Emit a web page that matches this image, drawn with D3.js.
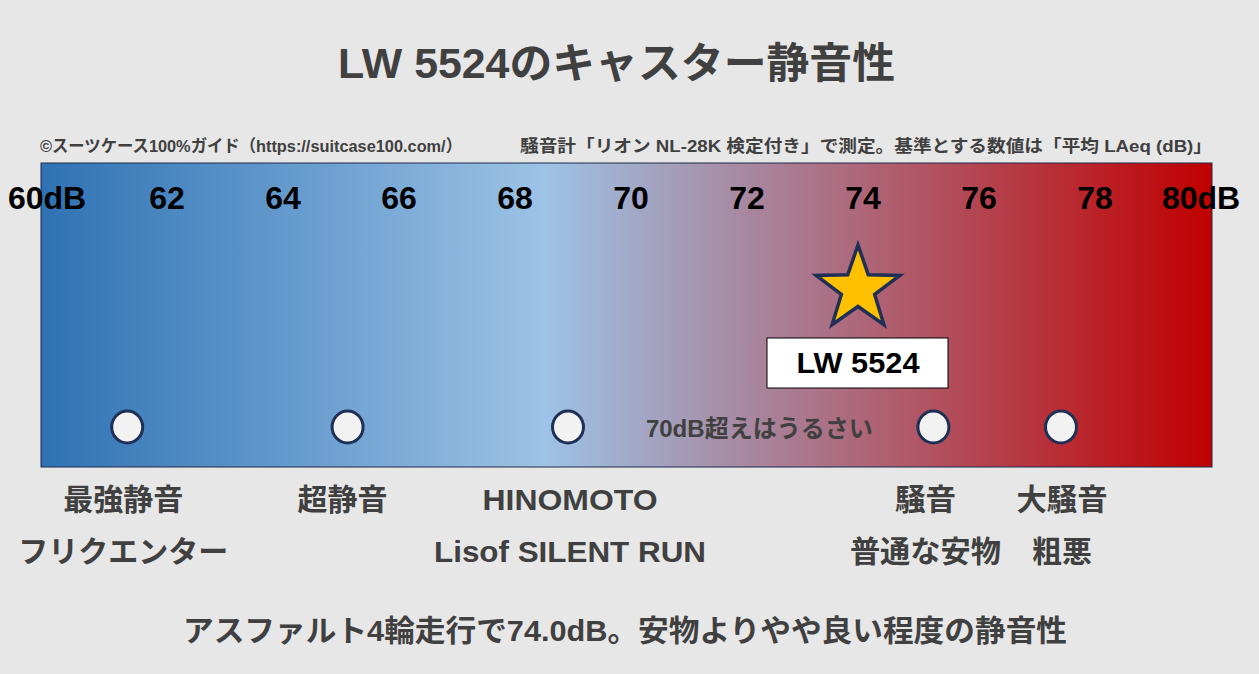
<!DOCTYPE html>
<html><head><meta charset="utf-8">
<script src="https://cdn.jsdelivr.net/npm/d3@7"></script>
<style>
html,body{margin:0;padding:0;background:#e7e7e7;}
svg{display:block;font-family:"Liberation Sans","Noto Sans CJK JP",sans-serif;}
</style></head>
<body><svg id="c" width="1259" height="674"></svg>
<script>
const title = "LW 5524のキャスター静音性";
const creditText = "©スーツケース100%ガイド（https://suitcase100.com/）";
const methodText = "騒音計「リオン NL-28K 検定付き」で測定。基準とする数値は「平均 LAeq (dB)」";
const tickValues = [60, 62, 64, 66, 68, 70, 72, 74, 76, 78, 80];
const tickLabels = ["60dB", "62", "64", "66", "68", "70", "72", "74", "76", "78", "80dB"];
const refValues = [61.4, 65.2, 69.0, 75.3, 77.5];
const refLine1 = ["最強静音", "超静音", "HINOMOTO", "騒音", "大騒音"];
const refLine2 = ["フリクエンター", "", "Lisof SILENT RUN", "普通な安物", "粗悪"];
const productName = "LW 5524";
const productValue = 74.0;
const noteText = "70dB超えはうるさい";
const noteValue = 72.3;
const summary = "アスファルト4輪走行で74.0dB。安物よりやや良い程度の静音性";

const svg = d3.select("#c");
const x = d3.scaleLinear().domain([60, 80]).range([46, 1206]);
const rectX0 = 41, rectX1 = 1212, rectY0 = 163, rectY1 = 467;
const txt = "#404040";

// squeeze/stretch a text to the width it has in the reference
function fit(sel, w) {
  sel.each(function () {
    const n = this.getComputedTextLength();
    if (n > 0 && w > 0) d3.select(this).attr("textLength", w).attr("lengthAdjust", "spacingAndGlyphs");
  });
  return sel;
}

const defs = svg.append("defs");
const g = defs.append("linearGradient").attr("id", "grad")
  .attr("x1", "0%").attr("x2", "100%").attr("y1", "0%").attr("y2", "0%");
g.append("stop").attr("offset", "0%").attr("stop-color", "#2e72b4");
g.append("stop").attr("offset", "43%").attr("stop-color", "#9dc3e6");
g.append("stop").attr("offset", "100%").attr("stop-color", "#c00000");

fit(svg.append("text").attr("x", 616.5).attr("y", 78).attr("text-anchor", "middle")
  .attr("font-size", 42).attr("font-weight", "bold").attr("fill", txt).text(title), 557);

fit(svg.append("text").attr("x", 40).attr("y", 152).attr("font-size", 17)
  .attr("font-weight", "bold").attr("fill", txt).text(creditText), 422);
fit(svg.append("text").attr("x", 520).attr("y", 152).attr("font-size", 17)
  .attr("font-weight", "bold").attr("fill", txt).text(methodText), 692);

svg.append("rect").attr("x", rectX0).attr("y", rectY0)
  .attr("width", rectX1 - rectX0).attr("height", rectY1 - rectY0)
  .attr("fill", "url(#grad)").attr("stroke", "#1f2a4a").attr("stroke-width", 1);

svg.selectAll("text.tick").data(tickValues).enter().append("text")
  .attr("class", "tick")
  .attr("x", d => x(d))
  .attr("dx", (d, i) => i === 0 ? 1 : (i === tickValues.length - 1 ? -5 : 5))
  .attr("y", 209).attr("text-anchor", "middle")
  .attr("font-size", 32).attr("font-weight", "bold").attr("fill", "#000")
  .text((d, i) => tickLabels[i]);

// note
fit(svg.append("text").attr("x", x(noteValue)).attr("y", 437).attr("text-anchor", "middle")
  .attr("font-size", 24).attr("font-weight", "bold").attr("fill", txt).text(noteText), 227);

// reference circles
svg.selectAll("ellipse.ref").data(refValues).enter().append("ellipse")
  .attr("class", "ref")
  .attr("cx", d => x(d)).attr("cy", 427).attr("rx", 15.5).attr("ry", 16)
  .attr("fill", "#f2f2f2").attr("stroke", "#1f2f55").attr("stroke-width", 3);

const w1 = [120, 90, 175, 61, 91], w2 = [210, 0, 272, 151, 60];
const ldx = [-4, -5, 2, -8, 1];
svg.selectAll("text.l1").data(refValues).enter().append("text")
  .attr("class", "l1").attr("x", d => x(d)).attr("dx", (d, i) => ldx[i])
  .attr("y", 510).attr("text-anchor", "middle")
  .attr("font-size", 30).attr("font-weight", "bold").attr("fill", txt)
  .text((d, i) => refLine1[i])
  .each(function (d, i) { fit(d3.select(this), w1[i]); });
svg.selectAll("text.l2").data(refValues).enter().append("text")
  .attr("class", "l2").attr("x", d => x(d)).attr("dx", (d, i) => ldx[i])
  .attr("y", 562).attr("text-anchor", "middle")
  .attr("font-size", 30).attr("font-weight", "bold").attr("fill", txt)
  .text((d, i) => refLine2[i])
  .each(function (d, i) { fit(d3.select(this), w2[i]); });

// star
const px = x(productValue), py = 289, R = 44, r = 17.5;
const pts = [];
for (let i = 0; i < 10; i++) {
  const a = -Math.PI / 2 + i * Math.PI / 5;
  const rr = i % 2 === 0 ? R : r;
  pts.push([px + rr * Math.cos(a), py + rr * Math.sin(a)]);
}
svg.append("path").attr("d", d3.line()(pts) + "Z")
  .attr("fill", "#ffc000").attr("stroke", "#1f2f55").attr("stroke-width", 3.5)
  .attr("stroke-linejoin", "miter");

svg.append("rect").attr("x", px - 91).attr("y", 338).attr("width", 181).attr("height", 50)
  .attr("fill", "#fff").attr("stroke", "#000").attr("stroke-width", 1);
fit(svg.append("text").attr("x", px).attr("y", 373).attr("text-anchor", "middle")
  .attr("font-size", 30).attr("font-weight", "bold").attr("fill", "#000").text(productName), 123);

fit(svg.append("text").attr("x", 625).attr("y", 641).attr("text-anchor", "middle")
  .attr("font-size", 30).attr("font-weight", "bold").attr("fill", txt).text(summary), 884);
</script></body></html>
